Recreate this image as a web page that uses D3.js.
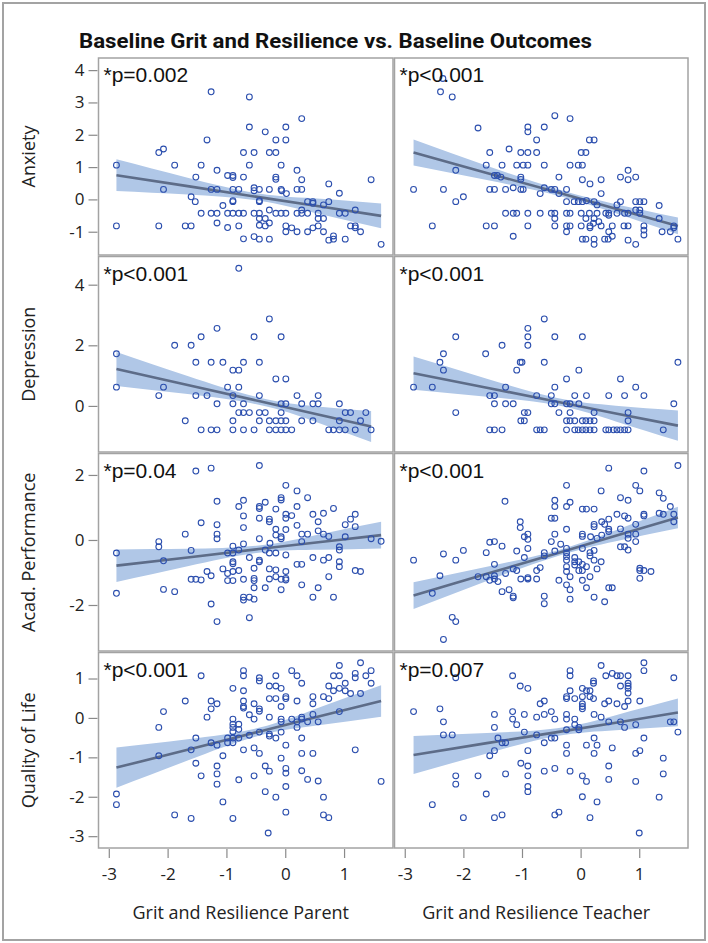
<!DOCTYPE html>
<html><head><meta charset="utf-8">
<script src="https://cdn.jsdelivr.net/npm/d3@7"></script>
<style>html,body{margin:0;padding:0;background:#fff}</style>
</head><body><svg id="chart" width="708" height="943"></svg>
<script>
const title = "Baseline Grit and Resilience vs. Baseline Outcomes";
const rowLabels = ["Anxiety", "Depression", "Acad. Performance", "Quality of Life"];
const colLabels = ["Grit and Resilience Parent", "Grit and Resilience Teacher"];
const xTicks = [-3, -2, -1, 0, 1];
const yTicksByRow = [[-1, 0, 1, 2, 3, 4], [0, 2, 4], [-2, 0, 2], [-3, -2, -1, 0, 1]];
const pLabels = [["*p=0.002", "*p<0.001"], ["*p<0.001", "*p<0.001"], ["*p=0.04", "*p<0.001"], ["*p<0.001", "*p=0.007"]];
const xDomain = [-3.175, 1.832];
const yDomains = [[-1.72, 4.375], [-1.52, 4.93], [-3.415, 2.66], [-3.30, 1.66]];

// fitted line and 95% band, read at five x positions
const bandXParent = [-2.87, -1.66, -0.45, 0.6, 1.63];
const bandXParentDep = [-2.87, -1.66, -0.45, 0.5, 1.46];
const bandXTeacher = [-2.85, -1.6, -0.4, 0.6, 1.66];
const anxParentFit = [0.75, 0.41, 0.07, -0.22, -0.51];
const anxParentLo = [0.26, 0.15, -0.04, -0.46, -0.89];
const anxParentHi = [1.24, 0.67, 0.18, 0.02, -0.13];
const anxTeacherFit = [1.45, 0.82, 0.22, -0.29, -0.82];
const anxTeacherLo = [1.05, 0.60, 0.12, -0.43, -1.08];
const anxTeacherHi = [1.85, 1.04, 0.32, -0.15, -0.56];
const depParentFit = [1.22, 0.69, 0.16, -0.26, -0.68];
const depParentLo = [0.66, 0.39, 0.04, -0.51, -1.19];
const depParentHi = [1.78, 0.99, 0.28, -0.01, -0.17];
const depTeacherFit = [1.08, 0.60, 0.14, -0.25, -0.65];
const depTeacherLo = [0.53, 0.30, 0.02, -0.51, -1.15];
const depTeacherHi = [1.63, 0.90, 0.26, 0.01, -0.15];
const acadParentFit = [-0.79, -0.54, -0.28, -0.06, 0.15];
const acadParentLo = [-1.29, -0.81, -0.39, -0.30, -0.26];
const acadParentHi = [-0.29, -0.27, -0.17, 0.18, 0.56];
const acadTeacherFit = [-1.71, -1.04, -0.41, 0.13, 0.69];
const acadTeacherLo = [-2.12, -1.26, -0.50, -0.04, 0.36];
const acadTeacherHi = [-1.30, -0.82, -0.32, 0.30, 1.02];
const qolParentFit = [-1.26, -0.81, -0.35, 0.05, 0.43];
const qolParentLo = [-1.77, -1.08, -0.45, -0.18, 0.03];
const qolParentHi = [-0.75, -0.54, -0.25, 0.28, 0.83];
const qolTeacherFit = [-0.94, -0.64, -0.36, -0.12, 0.14];
const qolTeacherLo = [-1.42, -0.90, -0.46, -0.31, -0.21];
const qolTeacherHi = [-0.46, -0.38, -0.26, 0.07, 0.49];

// scatter points [x, y]
const anxParentPts = [[-1.26,3.33],[-0.61,3.17],[0.28,2.50],[-0.61,2.24],[-0.34,2.09],[0.01,2.24],[-1.33,1.84],[-0.16,1.84],[0.01,1.84],[-2.15,1.45],[-2.07,1.56],[-0.71,1.45],[-0.53,1.45],[-0.27,1.45],[-0.16,1.45],[-2.87,1.06],[-1.88,1.06],[-1.43,1.06],[-0.61,1.06],[-0.07,1.06],[-1.16,0.90],[0.20,0.90],[-1.52,0.69],[-0.98,0.74],[-0.89,0.74],[-0.89,0.68],[-0.71,0.69],[-0.16,0.69],[-0.16,0.62],[0.28,0.61],[1.46,0.61],[-2.07,0.31],[-1.26,0.31],[-1.16,0.31],[-0.89,0.31],[-0.79,0.31],[-0.53,0.36],[-0.53,0.27],[-0.44,0.31],[-0.27,0.31],[-0.07,0.31],[-0.06,0.27],[0.20,0.31],[0.28,0.31],[0.74,0.48],[0.02,0.18],[0.92,0.19],[-1.60,0.08],[-1.53,-0.07],[-0.89,-0.07],[-0.89,-0.04],[-0.44,-0.07],[-0.44,-0.04],[-1.06,-0.19],[0.38,-0.07],[0.47,-0.07],[0.47,-0.12],[0.65,-0.17],[0.74,-0.07],[0.28,-0.33],[-1.43,-0.43],[-1.26,-0.43],[-1.16,-0.43],[-0.98,-0.43],[-0.89,-0.43],[-0.79,-0.43],[-0.71,-0.43],[-0.53,-0.43],[-0.44,-0.43],[-0.44,-0.59],[-0.27,-0.33],[-0.16,-0.43],[-0.07,-0.43],[0.01,-0.43],[0.20,-0.43],[0.28,-0.43],[0.38,-0.43],[0.56,-0.43],[0.56,-0.59],[0.65,-0.59],[0.92,-0.43],[1.02,-0.43],[1.19,-0.33],[-0.34,-0.59],[-1.16,-0.73],[-0.98,-0.87],[-0.79,-0.82],[-0.44,-0.80],[-0.34,-0.82],[-0.27,-0.73],[-2.87,-0.82],[-2.15,-0.82],[-1.70,-0.82],[-1.60,-0.82],[0.01,-0.82],[0.11,-0.88],[0.01,-1.00],[0.20,-1.00],[0.38,-1.00],[0.47,-0.88],[0.56,-0.82],[0.65,-1.00],[1.11,-0.82],[1.19,-0.82],[1.19,-0.88],[1.28,-1.00],[-0.71,-1.22],[-0.53,-1.15],[-0.44,-1.23],[-0.27,-1.23],[0.74,-1.26],[0.82,-1.23],[0.82,-1.13],[1.02,-1.23],[1.63,-1.39]];
const anxTeacherPts = [[-2.35,3.74],[-2.39,3.33],[-2.19,3.17],[-1.75,2.21],[-0.44,2.59],[-0.18,2.50],[-0.90,2.24],[-0.90,2.09],[-0.62,2.24],[-0.75,1.84],[0.15,1.84],[0.23,1.84],[-1.55,1.45],[-1.22,1.56],[-1.02,1.45],[-0.90,1.45],[-0.75,1.45],[0.01,1.45],[0.09,1.45],[-1.61,1.06],[-1.34,1.06],[-1.09,1.06],[-0.98,1.06],[-0.90,1.06],[-0.62,1.06],[-0.18,1.06],[-0.04,1.06],[0.03,1.06],[-2.13,0.90],[-1.47,0.74],[-1.42,0.74],[-1.36,0.69],[-1.02,0.69],[-1.02,0.62],[-0.37,0.69],[0.03,0.61],[0.16,0.48],[0.35,0.61],[0.68,0.69],[0.81,0.90],[0.81,0.61],[0.94,0.69],[-2.85,0.31],[-2.34,0.31],[-1.55,0.31],[-1.47,0.31],[-1.28,0.31],[-1.15,0.36],[-1.02,0.31],[-0.98,0.31],[-0.62,0.36],[-0.50,0.31],[-0.44,0.31],[-0.24,0.31],[-0.69,0.18],[-0.37,0.18],[0.35,0.18],[-2.13,-0.07],[-2.00,0.08],[-0.24,-0.07],[-0.11,-0.07],[-0.04,-0.07],[0.03,-0.07],[0.10,-0.04],[0.23,-0.07],[0.28,-0.17],[0.62,-0.17],[0.68,-0.07],[0.94,-0.07],[1.01,-0.07],[1.08,-0.07],[1.34,-0.19],[-1.28,-0.43],[-1.15,-0.43],[-1.09,-0.43],[-0.90,-0.43],[-0.69,-0.43],[-0.50,-0.43],[-0.44,-0.43],[-0.24,-0.43],[-0.18,-0.43],[0.01,-0.43],[0.15,-0.43],[0.28,-0.43],[0.43,-0.43],[0.48,-0.43],[0.48,-0.49],[0.62,-0.43],[0.75,-0.43],[0.81,-0.43],[0.94,-0.33],[1.01,-0.33],[1.01,-0.43],[-0.44,-0.59],[0.09,-0.59],[0.23,-0.59],[0.31,-0.69],[1.34,-0.59],[-2.53,-0.82],[-1.61,-0.82],[-1.47,-0.82],[-0.90,-0.82],[-0.44,-0.82],[-0.24,-0.82],[-0.18,-0.82],[0.01,-0.82],[0.16,-0.82],[0.22,-0.74],[0.35,-0.82],[0.54,-0.82],[0.74,-0.82],[0.81,-0.82],[1.08,-0.82],[1.08,-0.95],[1.08,-1.10],[1.59,-0.82],[-0.24,-1.00],[0.16,-0.88],[0.48,-1.00],[1.39,-1.00],[1.53,-1.00],[1.59,-0.88],[-1.15,-1.14],[0.03,-1.23],[0.09,-1.23],[0.23,-1.23],[0.41,-1.23],[0.47,-1.23],[0.54,-1.14],[0.81,-1.26],[0.94,-1.39],[0.23,-1.39],[1.66,-1.23]];
const depParentPts = [[-0.79,4.54],[-0.27,2.87],[-1.16,2.56],[-1.43,2.28],[-0.53,2.28],[-0.07,2.28],[-1.88,2.00],[-1.60,2.00],[-2.87,1.72],[-1.52,1.44],[-1.26,1.44],[-1.06,1.44],[-0.71,1.44],[-0.44,1.44],[-0.89,1.18],[-0.79,1.18],[-0.16,0.89],[0.01,0.89],[-2.87,0.62],[-2.07,0.62],[-0.98,0.62],[-0.79,0.62],[-2.15,0.34],[-1.52,0.34],[-1.33,0.34],[-0.89,0.34],[-0.44,0.34],[0.20,0.34],[0.56,0.34],[-1.16,0.07],[-0.89,0.07],[-0.71,0.07],[-0.07,0.07],[0.01,0.07],[0.28,0.07],[0.47,0.07],[0.56,0.07],[0.92,0.07],[-0.79,-0.22],[-0.71,-0.22],[-0.61,-0.22],[-0.44,-0.22],[-0.34,-0.22],[-0.07,-0.22],[1.02,-0.22],[1.11,-0.22],[1.37,-0.22],[-1.70,-0.49],[-0.89,-0.49],[-0.44,-0.49],[-0.27,-0.49],[-0.16,-0.49],[-0.07,-0.49],[0.01,-0.49],[0.28,-0.49],[0.47,-0.49],[0.92,-0.49],[1.28,-0.49],[-1.43,-0.79],[-1.26,-0.79],[-1.16,-0.79],[-0.89,-0.79],[-0.71,-0.79],[-0.53,-0.79],[-0.27,-0.79],[-0.16,-0.79],[-0.07,-0.79],[0.01,-0.79],[0.11,-0.79],[0.74,-0.79],[0.82,-0.79],[0.92,-0.79],[1.02,-0.79],[1.19,-0.79],[1.46,-0.79]];
const depTeacherPts = [[-0.62,2.87],[-0.90,2.56],[-0.90,2.28],[-2.13,2.28],[-0.44,2.28],[0.03,2.28],[-1.34,2.00],[-0.90,2.00],[-1.62,1.72],[-2.34,1.72],[-2.40,1.44],[-1.03,1.44],[-1.00,1.44],[-0.62,1.44],[1.66,1.44],[-2.34,1.18],[-1.09,1.18],[-0.03,1.18],[-0.24,0.89],[0.68,0.89],[-2.85,0.62],[-2.53,0.62],[-1.28,0.62],[-0.44,0.62],[0.94,0.62],[-1.55,0.34],[-1.47,0.34],[-0.75,0.34],[-0.50,0.34],[-0.10,0.34],[0.10,0.34],[0.48,0.34],[0.75,0.34],[1.08,0.34],[-1.47,0.07],[-1.28,0.07],[-1.15,0.07],[-0.50,0.07],[-0.44,0.07],[-0.24,0.07],[-0.18,0.07],[-0.03,0.07],[1.59,0.07],[-2.13,-0.22],[-0.96,-0.22],[-0.90,-0.22],[-0.37,-0.22],[-0.18,-0.22],[0.23,-0.22],[0.81,-0.22],[-1.02,-0.49],[-0.96,-0.49],[-0.24,-0.49],[-0.18,-0.49],[-0.10,-0.49],[0.03,-0.49],[0.09,-0.49],[0.16,-0.49],[0.23,-0.49],[0.81,-0.49],[-1.55,-0.79],[-1.47,-0.79],[-1.34,-0.79],[-0.75,-0.79],[-0.69,-0.79],[-0.62,-0.79],[-0.24,-0.79],[-0.10,-0.79],[-0.04,-0.79],[0.03,-0.79],[0.09,-0.79],[0.16,-0.79],[0.23,-0.79],[0.43,-0.79],[0.48,-0.79],[0.56,-0.79],[0.62,-0.79],[0.68,-0.79],[0.75,-0.79],[0.81,-0.79],[1.41,-0.79]];
const acadParentPts = [[-1.52,2.12],[-1.26,2.21],[-0.44,2.29],[0.01,1.68],[0.20,1.51],[0.38,1.30],[-1.16,1.19],[-0.71,1.22],[-0.79,1.03],[-0.44,1.03],[-0.44,0.97],[-0.34,1.16],[-0.07,1.30],[-0.07,1.23],[-0.16,0.95],[0.20,1.03],[0.82,0.97],[-0.71,0.74],[-0.44,0.67],[-0.27,0.64],[-0.27,0.56],[0.01,0.79],[0.01,0.67],[0.11,0.75],[0.47,0.79],[0.65,0.82],[1.19,0.79],[1.11,0.64],[1.02,0.47],[0.56,0.56],[0.20,0.45],[-1.43,0.53],[-1.16,0.47],[-0.71,0.38],[-0.16,0.33],[0.01,0.32],[1.19,0.41],[-1.70,0.18],[-1.16,0.18],[-1.16,0.04],[-0.16,0.15],[-0.07,0.10],[-0.07,0.04],[0.28,0.18],[0.28,-0.05],[0.38,0.18],[0.56,0.28],[0.65,0.18],[0.74,0.11],[1.02,0.10],[-0.44,0.04],[-0.26,-0.10],[1.46,0.04],[1.63,-0.04],[-2.15,-0.05],[-2.15,-0.21],[-0.89,-0.19],[-0.71,-0.12],[0.92,-0.21],[0.92,-0.31],[-2.87,-0.40],[-1.60,-0.32],[-0.98,-0.40],[-0.89,-0.40],[-0.89,-0.67],[-0.89,-0.73],[-0.79,-0.31],[-0.34,-0.31],[-0.27,-0.40],[-0.16,-0.40],[-2.07,-0.64],[-0.61,-0.54],[-0.44,-0.62],[-0.44,-0.67],[0.01,-0.46],[0.20,-0.75],[0.28,-0.75],[0.47,-0.54],[0.65,-0.62],[0.74,-0.54],[0.92,-0.67],[0.92,-0.82],[-1.33,-0.97],[-1.26,-1.10],[-1.06,-0.89],[-0.98,-1.03],[-0.89,-0.97],[-0.79,-0.94],[-0.53,-0.87],[-0.27,-0.89],[-0.16,-0.92],[-0.16,-1.13],[0.01,-0.97],[1.19,-0.94],[1.28,-0.97],[-1.60,-1.21],[-1.52,-1.21],[-1.43,-1.23],[-0.98,-1.25],[-0.89,-1.25],[-0.71,-1.21],[-0.53,-1.18],[-0.53,-1.25],[-0.27,-1.20],[-0.07,-1.21],[0.01,-1.23],[0.01,-1.18],[0.74,-1.13],[-2.87,-1.64],[-2.07,-1.52],[-1.88,-1.59],[-0.53,-1.47],[-0.34,-1.47],[-0.07,-1.53],[0.28,-1.38],[0.56,-1.47],[0.47,-1.76],[0.82,-1.76],[-0.71,-1.76],[-0.71,-1.85],[-0.61,-1.76],[-0.53,-1.82],[-1.26,-1.97],[-1.16,-2.51],[-0.61,-2.39]];
const acadTeacherPts = [[1.66,2.29],[0.48,2.21],[1.08,2.12],[-0.24,1.68],[0.94,1.68],[1.01,1.51],[0.35,1.51],[1.34,1.45],[1.41,1.28],[0.68,1.30],[0.81,1.22],[-1.29,1.19],[-0.44,1.22],[-0.44,1.03],[-0.24,1.03],[-0.18,1.16],[0.03,0.95],[0.10,0.95],[0.23,0.95],[1.53,1.03],[-0.50,0.67],[-0.44,0.67],[0.62,0.79],[0.75,0.74],[0.81,0.67],[1.08,0.79],[1.08,0.74],[1.34,0.82],[1.41,0.79],[1.59,0.79],[1.59,0.56],[0.48,0.64],[0.36,0.56],[0.23,0.48],[0.23,0.41],[0.41,0.48],[0.48,0.33],[0.48,0.26],[-0.24,0.33],[-1.03,0.56],[-1.03,0.38],[-0.90,0.18],[-0.96,0.10],[-0.44,0.18],[0.03,0.18],[0.03,0.11],[0.17,0.10],[0.28,0.05],[0.36,0.15],[0.68,0.34],[0.81,0.18],[0.81,0.05],[0.94,0.48],[0.94,0.18],[0.94,-0.05],[-1.55,-0.07],[-1.47,-0.05],[-1.34,-0.19],[-0.90,0.02],[-0.90,-0.26],[-0.50,-0.05],[-0.34,-0.13],[-1.09,-0.34],[-1.61,-0.39],[-0.62,-0.39],[-0.44,-0.34],[-0.24,-0.26],[-0.24,-0.40],[0.03,-0.26],[0.16,-0.39],[0.23,-0.32],[0.68,-0.21],[0.75,-0.21],[0.81,-0.31],[-2.85,-0.62],[-2.34,-0.43],[-2.13,-0.62],[-2.00,-0.32],[-1.47,-0.75],[-0.96,-0.54],[-0.62,-0.49],[-0.24,-0.62],[-0.24,-0.51],[-0.10,-0.54],[-0.10,-0.67],[-0.03,-0.67],[0.03,-0.75],[0.16,-0.49],[0.23,-0.62],[0.35,-0.67],[-2.40,-1.10],[-1.75,-1.13],[-1.61,-1.13],[-1.55,-1.24],[-1.47,-1.20],[-1.47,-1.10],[-1.41,-1.28],[-1.28,-1.03],[-1.15,-0.89],[-1.09,-0.94],[-1.02,-1.20],[-0.90,-1.16],[-0.90,-1.20],[-0.75,-0.94],[-0.69,-0.85],[-0.75,-1.20],[-0.37,-1.24],[-0.24,-0.97],[-0.24,-0.82],[-0.18,-1.13],[-0.10,-0.77],[-0.03,-0.94],[0.03,-0.94],[0.03,-1.24],[0.16,-1.13],[0.28,-0.89],[0.10,-0.82],[1.01,-0.87],[1.01,-0.94],[1.08,-0.94],[1.20,-0.97],[1.01,-1.18],[-1.34,-1.59],[-1.22,-1.53],[-1.15,-1.73],[-1.15,-1.78],[-0.62,-1.73],[-0.62,-1.96],[-2.53,-1.64],[-0.24,-1.38],[-0.18,-1.53],[0.10,-1.47],[0.48,-1.47],[0.54,-1.47],[0.23,-1.76],[0.41,-1.90],[-0.18,-1.82],[-2.19,-2.38],[-2.13,-2.51],[-2.34,-3.06]];
const qolParentPts = [[0.92,1.33],[1.28,1.40],[-0.71,1.20],[-0.71,1.07],[-1.43,1.07],[-0.44,1.02],[-0.44,0.94],[-0.16,1.07],[0.11,1.20],[0.20,1.07],[0.28,0.88],[0.82,1.07],[0.92,1.07],[1.19,1.13],[1.19,1.02],[1.37,1.07],[1.46,1.20],[1.46,0.88],[-0.89,0.75],[-0.71,0.69],[-0.27,0.81],[-0.16,0.81],[-0.07,0.75],[0.74,0.81],[0.82,0.69],[0.92,0.75],[1.02,0.88],[1.02,0.69],[1.11,0.62],[1.28,0.62],[0.65,0.54],[0.74,0.49],[0.47,0.54],[0.01,0.54],[0.01,0.49],[-0.16,0.49],[-0.27,0.49],[0.20,0.43],[0.47,0.36],[-1.70,0.43],[-1.26,0.43],[-1.16,0.36],[-1.26,0.23],[-0.71,0.43],[-0.71,0.29],[-0.71,0.25],[-0.53,0.36],[-0.44,0.23],[-0.44,0.17],[-0.07,0.29],[-2.07,0.16],[-1.33,0.02],[-0.61,0.08],[-0.53,-0.03],[-0.89,-0.03],[-0.89,-0.16],[-0.89,-0.24],[-0.79,-0.16],[-0.79,-0.29],[-0.89,-0.35],[-0.27,0.02],[-0.07,-0.03],[-0.07,-0.10],[0.11,-0.03],[0.20,-0.10],[0.20,-0.24],[0.28,0.02],[0.28,-0.03],[0.38,-0.10],[0.56,-0.10],[0.47,0.09],[0.92,0.16],[-2.15,-0.24],[-1.52,-0.51],[-1.26,-0.63],[-1.16,-0.69],[-0.98,-0.51],[-0.98,-0.63],[-0.89,-0.51],[-0.89,-0.63],[-0.79,-0.51],[-0.61,-0.44],[-0.44,-0.36],[-0.27,-0.41],[-0.27,-0.46],[-0.16,-0.51],[-0.07,-0.36],[0.28,-0.51],[-2.15,-0.96],[-1.60,-0.81],[-1.52,-1.15],[-1.06,-0.96],[-0.71,-0.81],[-0.53,-0.76],[-0.44,-0.90],[0.01,-0.69],[0.28,-0.90],[0.47,-0.90],[1.19,-0.81],[-1.16,-1.22],[-1.16,-1.42],[-1.43,-1.47],[-1.16,-1.68],[-0.79,-1.57],[-0.53,-1.47],[-0.34,-1.22],[-0.27,-1.35],[-0.07,-1.02],[0.01,-1.28],[0.01,-1.40],[0.01,-1.74],[0.28,-1.34],[0.38,-1.56],[0.56,-1.60],[1.63,-1.61],[-2.87,-1.93],[-2.87,-2.20],[-1.06,-2.13],[-0.34,-1.87],[-0.16,-2.01],[0.65,-2.01],[-1.88,-2.46],[-1.60,-2.55],[-0.89,-2.55],[0.01,-2.39],[0.65,-2.46],[0.74,-2.53],[-0.29,-2.92]];
const qolTeacherPts = [[1.08,1.40],[1.08,1.20],[0.35,1.33],[0.54,1.13],[-0.18,1.20],[-0.18,1.07],[0.43,1.07],[0.62,1.07],[0.68,1.07],[0.81,1.07],[0.81,0.88],[0.81,0.81],[0.81,0.75],[0.81,0.63],[1.59,1.02],[-1.16,1.07],[-2.13,1.02],[0.22,0.94],[0.22,0.88],[0.68,0.81],[-1.03,0.81],[-0.90,0.75],[0.03,0.75],[0.10,0.69],[0.16,0.69],[-0.18,0.69],[-0.24,0.54],[-0.24,0.49],[-0.10,0.49],[0.03,0.54],[0.16,0.54],[0.22,0.49],[-0.62,0.43],[-0.69,0.36],[0.03,0.36],[0.03,0.23],[0.03,0.29],[0.48,0.43],[0.41,0.36],[0.62,0.36],[0.75,0.29],[0.81,0.43],[1.01,0.43],[-1.16,0.16],[-0.50,0.16],[-0.62,0.09],[-0.75,0.02],[-0.96,0.09],[-1.47,0.09],[-2.85,0.16],[-2.40,0.23],[-0.24,0.09],[-0.24,-0.03],[-0.10,-0.03],[-0.44,-0.03],[0.23,0.09],[0.35,0.02],[0.48,-0.10],[0.68,-0.10],[-1.16,-0.03],[-1.09,-0.17],[-2.34,-0.10],[-2.34,-0.43],[-2.19,-0.43],[-1.47,-0.24],[-0.96,-0.36],[-0.75,-0.43],[-0.50,-0.51],[-0.44,-0.51],[-0.24,-0.30],[-0.10,-0.17],[-0.03,-0.24],[-0.03,-0.30],[0.23,-0.51],[0.75,-0.24],[0.94,-0.17],[1.53,-0.10],[1.59,-0.10],[1.66,-0.36],[-1.41,-0.51],[-1.34,-0.63],[-1.28,-0.63],[-1.47,-0.83],[-1.55,-0.96],[-0.90,-0.83],[-0.62,-0.63],[-0.24,-0.69],[-0.24,-0.90],[0.10,-0.69],[0.28,-0.69],[0.23,-0.90],[0.54,-0.76],[0.94,-0.90],[1.01,-0.83],[1.08,-0.51],[-1.02,-1.15],[-0.90,-1.22],[-0.44,-1.28],[-0.62,-1.35],[-0.18,-1.35],[0.03,-1.47],[0.10,-1.61],[0.48,-1.22],[0.48,-1.56],[0.94,-1.61],[1.41,-1.02],[1.41,-1.42],[-2.13,-1.47],[-2.13,-1.68],[-1.75,-1.47],[-1.28,-1.42],[-0.90,-1.47],[-0.90,-1.74],[-0.90,-1.87],[-1.61,-1.93],[0.03,-2.00],[0.28,-2.13],[1.34,-2.01],[-2.53,-2.20],[-2.00,-2.53],[-1.47,-2.53],[-1.34,-2.46],[-0.44,-2.46],[-0.37,-2.39],[0.16,-2.53],[1.00,-2.92]];

const panels = [
  [{pts: anxParentPts, bx: bandXParent, fit: anxParentFit, lo: anxParentLo, hi: anxParentHi},
   {pts: anxTeacherPts, bx: bandXTeacher, fit: anxTeacherFit, lo: anxTeacherLo, hi: anxTeacherHi}],
  [{pts: depParentPts, bx: bandXParentDep, fit: depParentFit, lo: depParentLo, hi: depParentHi},
   {pts: depTeacherPts, bx: bandXTeacher, fit: depTeacherFit, lo: depTeacherLo, hi: depTeacherHi}],
  [{pts: acadParentPts, bx: bandXParent, fit: acadParentFit, lo: acadParentLo, hi: acadParentHi},
   {pts: acadTeacherPts, bx: bandXTeacher, fit: acadTeacherFit, lo: acadTeacherLo, hi: acadTeacherHi}],
  [{pts: qolParentPts, bx: bandXParent, fit: qolParentFit, lo: qolParentLo, hi: qolParentHi},
   {pts: qolTeacherPts, bx: bandXTeacher, fit: qolTeacherFit, lo: qolTeacherLo, hi: qolTeacherHi}]
];

// ---------- layout ----------
const colX = [[98.5, 393], [394.5, 688]];
const rowY = [[58, 255], [256.5, 452], [453.5, 651], [652.5, 848]];
const axisFont = "'Open Sans', 'Noto Sans', sans-serif";
const markerColor = "#2c4fae";
const fitColor = "#5d6c88";
const bandColor = "#b0c7e7";
const frameColor = "#a3a3a3";
const fmt = d => String(d);

const svg = d3.select("#chart");
svg.append("rect").attr("x", 0).attr("y", 0).attr("width", 708).attr("height", 943).attr("fill", "#fff");
svg.append("rect").attr("x", 3).attr("y", 3).attr("width", 702).attr("height", 937)
  .attr("fill", "none").attr("stroke", frameColor).attr("stroke-width", 2);

svg.append("text").attr("x", 79).attr("y", 48).text(title)
  .attr("font-family", "Roboto, 'Liberation Sans', sans-serif").attr("font-weight", "bold")
  .attr("font-size", 21).attr("fill", "#111")
  .attr("textLength", 513).attr("lengthAdjust", "spacingAndGlyphs");

const xScales = colX.map(r => d3.scaleLinear().domain(xDomain).range(r));
const yScales = rowY.map((r, i) => d3.scaleLinear().domain(yDomains[i]).range([r[1], r[0]]));

const defs = svg.append("defs");

rowY.forEach((ry, ri) => {
  const ys = yScales[ri];
  const yAxis = d3.axisLeft(ys).tickValues(yTicksByRow[ri]).tickSize(9).tickPadding(4).tickFormat(fmt);
  const ga = svg.append("g").attr("transform", `translate(${colX[0][0] - 1},0)`).call(yAxis);
  ga.select(".domain").remove();
  ga.selectAll(".tick line").attr("stroke", "#8a8a8a").attr("stroke-width", 1.2);
  ga.selectAll(".tick text").attr("font-family", axisFont).attr("font-size", 17).attr("fill", "#222");
  svg.append("text")
    .attr("transform", `translate(35,${(ry[0] + ry[1]) / 2}) rotate(-90)`)
    .attr("text-anchor", "middle").attr("font-family", axisFont).attr("font-size", 18).attr("fill", "#222")
    .text(rowLabels[ri]);

  colX.forEach((cx, ci) => {
    const xs = xScales[ci];
    const p = panels[ri][ci];
    const id = `clip${ri}${ci}`;
    defs.append("clipPath").attr("id", id).append("rect")
      .attr("x", cx[0]).attr("y", ry[0]).attr("width", cx[1] - cx[0]).attr("height", ry[1] - ry[0]);
    const g = svg.append("g");
    g.append("rect").attr("x", cx[0]).attr("y", ry[0]).attr("width", cx[1] - cx[0]).attr("height", ry[1] - ry[0])
      .attr("fill", "#fff");
    const inner = g.append("g").attr("clip-path", `url(#${id})`);
    const idx = d3.range(p.bx.length);
    const area = d3.area().x(i => xs(p.bx[i])).y0(i => ys(p.lo[i])).y1(i => ys(p.hi[i])).curve(d3.curveNatural);
    inner.append("path").attr("d", area(idx)).attr("fill", bandColor);
    const line = d3.line().x(i => xs(p.bx[i])).y(i => ys(p.fit[i]));
    inner.append("path").attr("d", line(idx)).attr("fill", "none").attr("stroke", fitColor).attr("stroke-width", 2.6);
    inner.selectAll("circle").data(p.pts).join("circle")
      .attr("cx", d => xs(d[0])).attr("cy", d => ys(d[1])).attr("r", 2.9)
      .attr("fill", "none").attr("stroke", markerColor).attr("stroke-width", 1.1);
    g.append("text").attr("x", cx[0] + 5).attr("y", ry[0] + 24).text(pLabels[ri][ci])
      .attr("font-family", "'Liberation Sans', Arial, sans-serif").attr("font-size", 21).attr("fill", "#111");
    g.append("rect").attr("x", cx[0]).attr("y", ry[0]).attr("width", cx[1] - cx[0]).attr("height", ry[1] - ry[0])
      .attr("fill", "none").attr("stroke", frameColor).attr("stroke-width", 1.5);
  });
});

colX.forEach((cx, ci) => {
  const xAxis = d3.axisBottom(xScales[ci]).tickValues(xTicks).tickSize(9).tickPadding(10).tickFormat(fmt);
  const ga = svg.append("g").attr("transform", `translate(0,${rowY[3][1] + 1})`).call(xAxis);
  ga.select(".domain").remove();
  ga.selectAll(".tick line").attr("stroke", "#8a8a8a").attr("stroke-width", 1.2);
  ga.selectAll(".tick text").attr("font-family", axisFont).attr("font-size", 17).attr("fill", "#222");
  svg.append("text").attr("x", (cx[0] + cx[1]) / 2 - 5).attr("y", 919).attr("text-anchor", "middle")
    .attr("font-family", axisFont).attr("font-size", 18).attr("fill", "#222").text(colLabels[ci]);
});
</script></body></html>
